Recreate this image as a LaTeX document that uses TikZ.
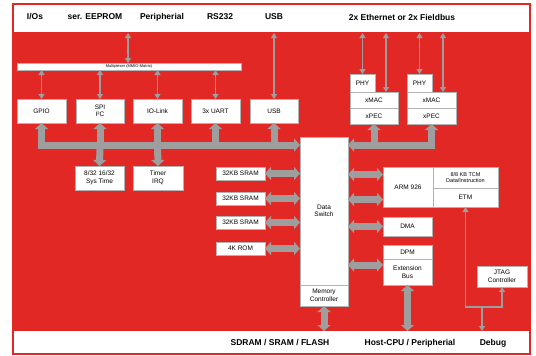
\documentclass[tikz,border=0pt]{standalone}
\usepackage{fontspec}
\setmainfont{Liberation Sans}
\usetikzlibrary{arrows.meta}
\definecolor{netred}{RGB}{226,40,36}
\definecolor{busgray}{RGB}{158,158,158}
\tikzset{
  BT/.tip={Triangle[length=6pt,width=13pt]},
  ST/.tip={Triangle[length=5pt,width=6pt]},
}
\begin{document}
\begin{tikzpicture}[x=1pt,y=-1pt,
  blk/.style={draw=black!30, line width=0.4pt, fill=white, inner sep=0pt, outer sep=0pt,
    anchor=north west, align=center, font=\fontsize{6.5}{7.5}\selectfont},
  toplbl/.style={font=\bfseries\fontsize{8.5}{9}\selectfont, inner sep=0pt},
  thinarr/.style={draw=busgray, line width=1.5pt},
  tk/.style={draw=busgray, line width=7pt}
]
\useasboundingbox (0,0) rectangle (536,356);
% frame
\fill[white] (0,0) rectangle (536,356);
\draw[netred, line width=1.5pt, fill=white] (13,4) rectangle (530,354);
\fill[netred] (13,32) rectangle (530,331);

% top labels
\node[toplbl] (tio) at (35,17) {I/Os};
\node[toplbl] (tee) at (95,17) {ser. EEPROM};
\node[toplbl] (tper) at (162,17) {Peripherial};
\node[toplbl] (trs) at (220,17) {RS232};
\node[toplbl] (tusb) at (274,17) {USB};
\node[toplbl] (teth) at (402,17) {2x Ethernet or 2x Fieldbus};
% bottom labels
\node[toplbl] (bmem) at (280,343) {SDRAM / SRAM / FLASH};
\node[toplbl] (bhost) at (410,343) {Host-CPU / Peripherial};
\node[toplbl] (bdbg) at (493,343) {Debug};

\coordinate (topy) at (0,33);
\coordinate (boty) at (0,331);
\coordinate (busy) at (0,145);

% multiplexer bar
\node[blk, minimum width=224pt, minimum height=7pt, font=\fontsize{4}{4}\selectfont] (mux) at (17,63) {Multiplexer (MMIO-Matrix)};

% peripheral boxes
\node[blk, minimum width=49pt, minimum height=24pt] (gpio) at (17,99) {GPIO};
\node[blk, minimum width=48pt, minimum height=24pt] (spi) at (76,99) {SPI\\I²C};
\node[blk, minimum width=49pt, minimum height=24pt] (iolink) at (133,99) {IO-Link};
\node[blk, minimum width=49pt, minimum height=24pt] (uart) at (191,99) {3x UART};
\node[blk, minimum width=48pt, minimum height=24pt] (usb) at (250,99) {USB};
\node[blk, minimum width=49pt, minimum height=24pt] (systime) at (75,166) {8/32 16/32\\Sys Time};
\node[blk, minimum width=50pt, minimum height=24pt] (timer) at (133,166) {Timer\\IRQ};

% ethernet
\node[blk, minimum width=25pt, minimum height=18pt] (phy1) at (350,74) {PHY};
\node[blk, minimum width=48pt, minimum height=16pt] (xmac1) at (350,92) {xMAC};
\node[blk, minimum width=48pt, minimum height=16pt] (xpec1) at (350,108) {xPEC};
\node[blk, minimum width=25pt, minimum height=18pt] (phy2) at (407,74) {PHY};
\node[blk, minimum width=49pt, minimum height=16pt] (xmac2) at (407,92) {xMAC};
\node[blk, minimum width=49pt, minimum height=16pt] (xpec2) at (407,108) {xPEC};

% memories
\node[blk, minimum width=49pt, minimum height=13pt] (mem1) at (216,167) {32KB SRAM};
\node[blk, minimum width=49pt, minimum height=13pt] (mem2) at (216,192) {32KB SRAM};
\node[blk, minimum width=49pt, minimum height=13pt] (mem3) at (216,216) {32KB SRAM};
\node[blk, minimum width=49pt, minimum height=13pt] (mem4) at (216,242) {4K ROM};

% data switch
\node[blk, minimum width=48pt, minimum height=148pt] (dsw) at (300,137) {Data\\Switch};
\node[blk, minimum width=48pt, minimum height=21pt] (memc) at (300,285) {Memory\\Controller};

% CPU side
\node[blk, minimum width=50pt, minimum height=40pt] (arm) at (383,167) {ARM 926};
\node[blk, minimum width=65pt, minimum height=21pt, font=\fontsize{5.5}{6.5}\selectfont] (tcm) at (433,167) {8/8 KB TCM\\Data/Instruction};
\node[blk, minimum width=65pt, minimum height=19pt] (etm) at (433,188) {ETM};
\node[blk, minimum width=49pt, minimum height=19pt] (dma) at (383,217) {DMA};
\node[blk, minimum width=49pt, minimum height=14pt] (dpm) at (383,245) {DPM};
\node[blk, minimum width=49pt, minimum height=26pt] (ext) at (383,259) {Extension\\Bus};
\node[blk, minimum width=50pt, minimum height=21pt] (jtag) at (477,266) {JTAG\\Controller};

% thin arrows from top
\coordinate (muxtop) at (128,33);
\draw[thinarr, ST-ST] (muxtop) -- (mux.north -| muxtop);
\foreach \b in {gpio,spi,iolink,uart}
  \draw[thinarr, ST-ST] (mux.south -| \b.north) -- (\b.north);
\draw[thinarr, ST-ST] (usb.north |- topy) -- (usb.north);
\draw[thinarr, ST-ST] (phy1.north |- topy) -- (phy1.north);
\draw[thinarr, ST-ST] (phy2.north |- topy) -- (phy2.north);
\coordinate (m1) at (386,92);
\coordinate (m2) at (443,92);
\draw[thinarr, ST-ST] (m1 |- topy) -- (m1);
\draw[thinarr, ST-ST] (m2 |- topy) -- (m2);

% left bus
\draw[tk, BT-BT] (gpio.south) -- (gpio.south |- busy) -- (dsw.west |- busy);
\foreach \b in {spi,iolink,uart,usb}
  \draw[tk, BT-] (\b.south) -- (\b.south |- busy);
\draw[tk, -BT] (spi.south |- busy) -- (systime.north);
\draw[tk, -BT] (iolink.south |- busy) -- (timer.north);

% right bus
\draw[tk, BT-BT] (dsw.east |- busy) -- (xpec2.south |- busy) -- (xpec2.south);
\draw[tk, -BT] (xpec1.south |- busy) -- (xpec1.south);

% memories
\foreach \m in {mem1,mem2,mem3,mem4}
  \draw[tk, BT-BT] (\m.east) -- (\m.east -| dsw.west);

% cpu side
\draw[tk, BT-BT] ([yshift=12.5pt]arm.west -| dsw.east) -- ([yshift=12.5pt]arm.west);
\draw[tk, BT-BT] ([yshift=-12.5pt]arm.west -| dsw.east) -- ([yshift=-12.5pt]arm.west);
\draw[tk, BT-BT] (dma.west -| dsw.east) -- (dma.west);
\draw[tk, BT-BT] ([yshift=7pt]ext.west -| dsw.east) -- ([yshift=7pt]ext.west);

% bottom
\draw[tk, BT-BT] (memc.south) -- (memc.south |- boty);
\draw[tk, BT-BT] (ext.south) -- (ext.south |- boty);

% debug
\coordinate (dbg) at (482,307);
\draw[thinarr, ST-ST] (etm.south) -- (etm.south |- dbg) -| (jtag.south);
\draw[thinarr, -ST] (dbg) -- (dbg |- boty);
\end{tikzpicture}
\end{document}
